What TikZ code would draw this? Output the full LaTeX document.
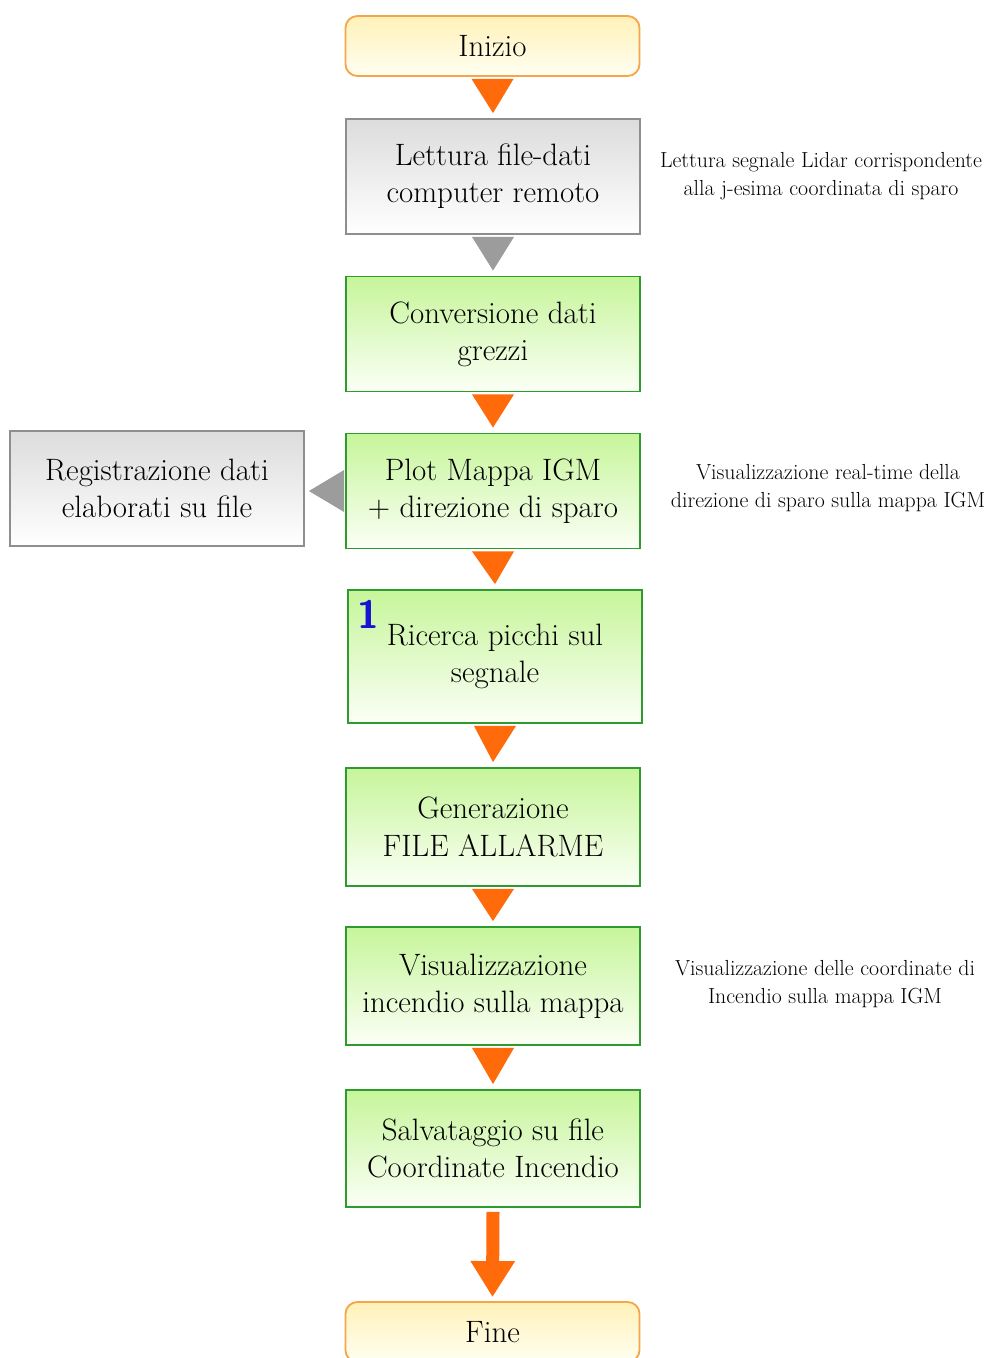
\documentclass[tikz,border=0pt]{standalone}
\usetikzlibrary{arrows.meta,calc}

\definecolor{flowor}{HTML}{FF6A0A}
\definecolor{flowgr}{HTML}{9C9C9C}
\definecolor{procline}{HTML}{2F9A2F}
\definecolor{proctop}{HTML}{C6F59A}
\definecolor{procbot}{HTML}{FBFFF6}
\definecolor{greyline}{HTML}{8E8E8E}
\definecolor{greytop}{HTML}{DCDCDC}
\definecolor{termline}{HTML}{F6A54A}
\definecolor{termtop}{HTML}{FFF1B8}
\definecolor{termbot}{HTML}{FFFFF2}
\definecolor{badgeblue}{HTML}{1414D2}

\begin{document}
\begin{tikzpicture}[
  x=0.025cm,y=-0.025cm,
  base/.style={draw, align=center, minimum width=7.35cm, inner sep=4pt, line width=1.3pt, font=\fontsize{22}{26.5}\selectfont},
  term/.style={base, rounded corners=0.3cm, draw=termline, top color=termtop, bottom color=termbot, minimum height=1.5cm},
  greybox/.style={base, draw=greyline, top color=greytop, bottom color=white, minimum height=2.875cm},
  proc/.style={base, draw=procline, top color=proctop, bottom color=procbot, minimum height=2.875cm},
  note/.style={align=center, font=\fontsize{15.5}{20}\selectfont},
  tri/.style={fill=flowor},
  bigarr/.style={draw=flowor, line width=0.325cm, -{Triangle[length=0.9cm,width=1.05cm]}}
]
\fill[white] (0,0) rectangle (1000,1358);
\useasboundingbox (0,0) rectangle (1000,1358);

% main column
\node[term] (start) at (492.5,46) {Inizio};
\node[greybox] (read) at (493,176.5) {Lettura file-dati\\computer remoto};
\node[proc] (conv) at (493,334) {Conversione dati\\grezzi};
\node[proc] (plot) at (493,491) {Plot Mappa IGM\\+ direzione di sparo};
\node[proc, minimum height=3.325cm] (peaks) at (495,656.5) {Ricerca picchi sul\\segnale};
\node[proc, minimum height=2.95cm] (alarm) at (493,827) {Generazione\\FILE ALLARME};
\node[proc, minimum height=2.95cm] (show) at (493,986) {Visualizzazione\\incendio sulla mappa};
\node[proc, minimum height=2.925cm] (save) at (493,1148.5) {Salvataggio su file\\Coordinate Incendio};
\node[term] (stop) at (492.5,1332) {Fine};

% side box and notes
\node[greybox] (reg) at (157,488.5) {Registrazione dati\\elaborati su file};
\node[note] (note1) at (821,176) {Lettura segnale Lidar corrispondente\\alla j-esima coordinata di sparo};
\node[note] (note2) at (828,488) {Visualizzazione real-time della\\direzione di sparo sulla mappa IGM};
\node[note] (note3) at (825,984) {Visualizzazione delle coordinate di\\Incendio sulla mappa IGM};

\node[font=\fontsize{28}{28}\sffamily\bfseries, text=badgeblue, inner sep=0pt] (badge) at ($(peaks.north west)+(21,25)$) {1};

% triangle connectors
\foreach \a/\b in {start/read,conv/plot,plot/peaks,peaks/alarm,alarm/show,show/save}{
  \fill[tri] ($(\a.south)+(-21,2)$) -- ($(\a.south)+(21,2)$) -- ($(\b.north)+(0,-5)$) -- cycle;
}
\fill[flowgr] ($(read.south)+(-21,2)$) -- ($(read.south)+(21,2)$) -- ($(conv.north)+(0,-5)$) -- cycle;
\fill[flowgr] ($(plot.west)+(-1,-21)$) -- ($(plot.west)+(-1,21)$) -- ($(reg.east |- plot.west)+(4,0)$) -- cycle;
\draw[bigarr] ($(save.south)+(0,4)$) -- ($(stop.north)+(0,-4)$);
\end{tikzpicture}
\end{document}
